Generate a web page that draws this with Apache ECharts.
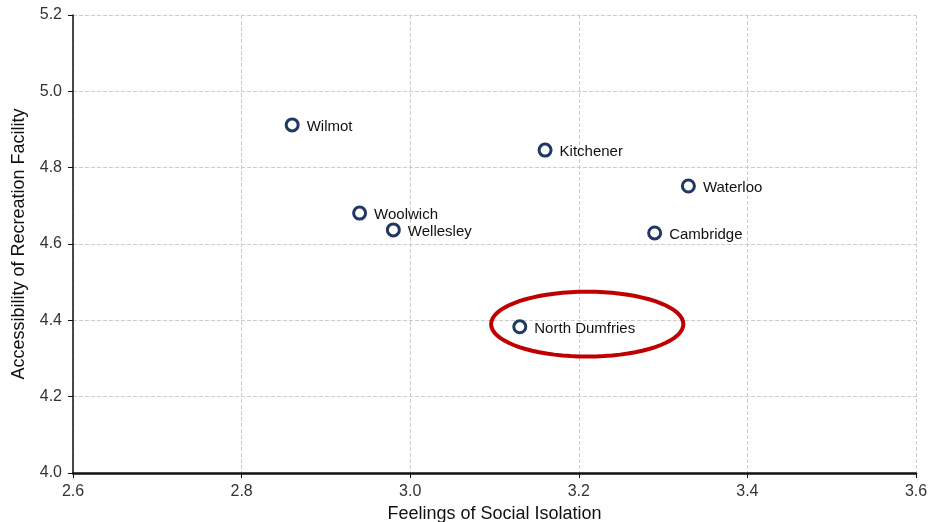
<!DOCTYPE html>
<html><head><meta charset="utf-8">
<script src="https://cdn.jsdelivr.net/npm/echarts@6/dist/echarts.min.js"></script>
<style>html,body{margin:0;padding:0;background:#fff}#c{width:931px;height:522px}</style>
</head><body><div id="c"></div>
<script>
const names = ["Wilmot","Kitchener","Waterloo","Woolwich","Wellesley","Cambridge","North Dumfries"];
const isolation = [2.86, 3.16, 3.33, 2.94, 2.98, 3.29, 3.13];
const recreation = [4.912, 4.846, 4.752, 4.681, 4.637, 4.629, 4.383];
const xTicks = [2.6, 3.6, 0.2];
const yTicks = [4.0, 5.2, 0.2];
const highlight = { center: [3.21, 4.39], halfWidth: [0.114, 0.085] };

const chart = echarts.init(document.getElementById('c'));
const font = 'Liberation Sans, Arial, sans-serif';
chart.setOption({
  animation: false,
  grid: { left: 73, right: 15, top: 15, bottom: 49, containLabel: false, outerBoundsMode: 'none' },
  xAxis: {
    type: 'value', min: xTicks[0], max: xTicks[1], interval: xTicks[2],
    name: 'Feelings of Social Isolation', nameLocation: 'middle', nameGap: 30,
    nameTextStyle: { fontSize: 18, color: '#111', fontFamily: font },
    axisLine: { show: true, onZero: false, lineStyle: { color: '#111', width: 2.5 } },
    axisTick: { show: true, length: 5, lineStyle: { color: '#111' } },
    axisLabel: { fontSize: 16, color: '#333', fontFamily: font, formatter: v => v.toFixed(1), margin: 11 },
    splitLine: { show: true, lineStyle: { color: '#ccc', type: 'dashed' } }
  },
  yAxis: {
    type: 'value', min: yTicks[0], max: yTicks[1], interval: yTicks[2],
    name: 'Accessibility of Recreation Facility', nameLocation: 'middle', nameGap: 45,
    nameTextStyle: { fontSize: 18, color: '#111', fontFamily: font },
    axisLine: { show: true, onZero: false, lineStyle: { color: '#111', width: 1.5 } },
    axisTick: { show: true, length: 5, lineStyle: { color: '#111' } },
    axisLabel: { fontSize: 16, color: '#333', fontFamily: font, formatter: v => v.toFixed(1), margin: 11 },
    splitLine: { show: true, lineStyle: { color: '#ccc', type: 'dashed' } }
  },
  series: [{
    type: 'scatter',
    data: names.map((n, i) => ({ name: n, value: [isolation[i], recreation[i]] })),
    symbol: 'circle', symbolSize: 12,
    itemStyle: { color: '#fff', borderColor: '#1F3864', borderWidth: 3, opacity: 1 },
    label: { show: true, position: 'right', distance: 7, formatter: '{b}', fontSize: 15, color: '#111', fontFamily: font, offset: [0, 2] }
  }]
});

function drawEllipse() {
  const pts = [];
  for (let k = 0; k < 72; k++) {
    const t = k / 72 * Math.PI * 2;
    pts.push(chart.convertToPixel({ gridIndex: 0 }, [
      highlight.center[0] + highlight.halfWidth[0] * Math.cos(t),
      highlight.center[1] + highlight.halfWidth[1] * Math.sin(t)
    ]));
  }
  chart.setOption({ graphic: [{ type: 'polygon', shape: { points: pts }, style: { fill: 'none', stroke: '#C00000', lineWidth: 4 }, z: 100 }] });
}
drawEllipse();
</script></body></html>
